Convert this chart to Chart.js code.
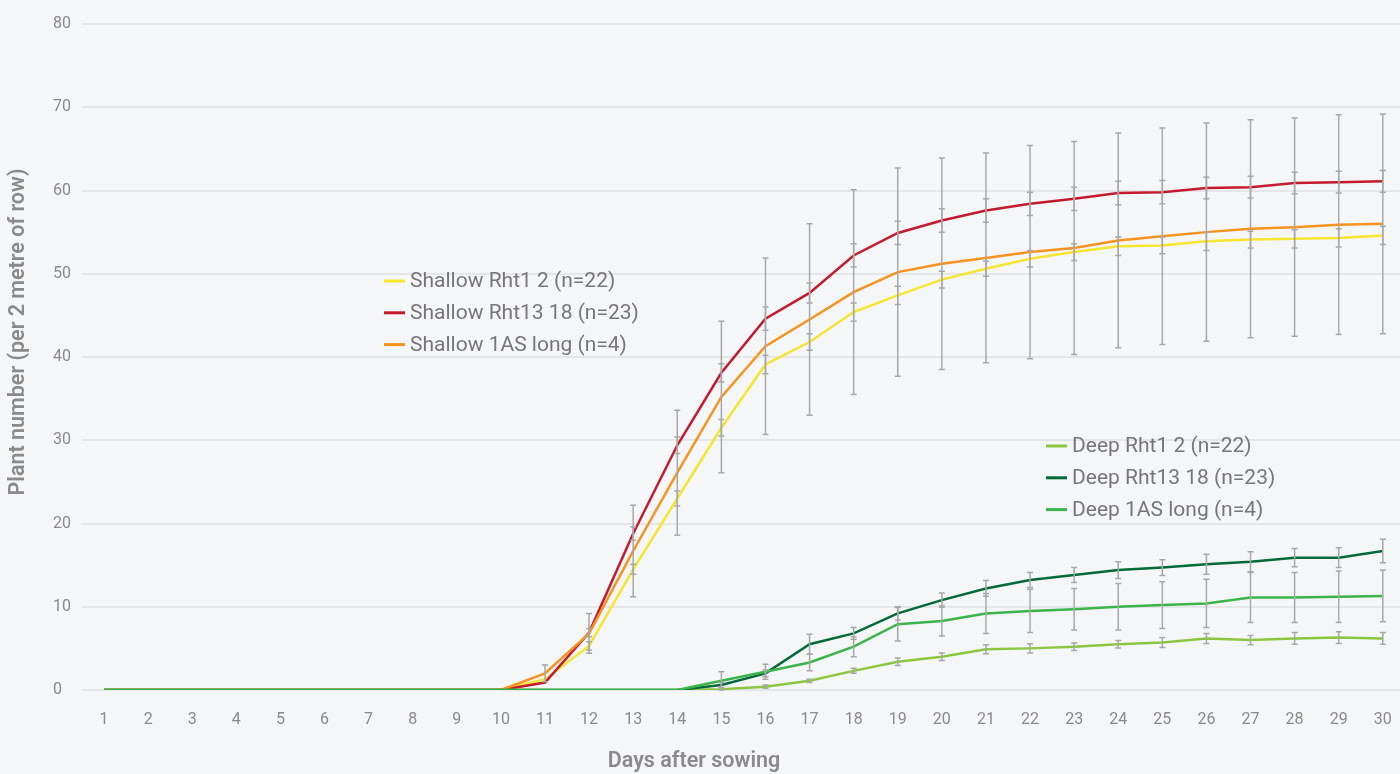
<!DOCTYPE html>
<html>
<head>
<meta charset="utf-8">
<title>Plant emergence</title>
<script src="https://cdn.jsdelivr.net/npm/chart.js@4.4.1/dist/chart.umd.min.js"></script>
<style>
    html, body { margin: 0; padding: 0; background: #f5f6f8; overflow: hidden; }
    #wrap { position: relative; width: 1400px; height: 774px; }
    #wrap canvas { display: block; }
</style>
</head>
<body>
<div id="wrap"><canvas id="plantChart"></canvas></div>
<script>
// Days after sowing
const days = [1, 2, 3, 4, 5, 6, 7, 8, 9, 10, 11, 12, 13, 14, 15, 16, 17, 18, 19, 20, 21, 22, 23, 24, 25, 26, 27, 28, 29, 30];
const yTicks = [0, 10, 20, 30, 40, 50, 60, 70, 80];

// Shallow sowing
const shallowRht12 = [0, 0, 0, 0, 0, 0, 0, 0, 0, 0, 1.3, 5.3, 14.5, 23.0, 31.5, 39.1, 41.8, 45.4, 47.4, 49.3, 50.6, 51.8, 52.6, 53.3, 53.4, 53.9, 54.1, 54.2, 54.3, 54.6];
const shallowRht12Err = [0, 0, 0, 0, 0, 0, 0, 0, 0, 0, 0, 0.5, 0.6, 0.9, 1.0, 1.1, 1.0, 1.1, 1.1, 1.0, 0.9, 1.0, 1.0, 1.1, 1.0, 1.1, 1.0, 1.1, 1.1, 1.1];
const shallowRht1318 = [0, 0, 0, 0, 0, 0, 0, 0, 0, 0, 0.9, 6.9, 18.8, 29.4, 38.1, 44.6, 47.7, 52.2, 54.9, 56.4, 57.6, 58.4, 59.0, 59.7, 59.8, 60.3, 60.4, 60.9, 61.0, 61.1];
const shallowRht1318Err = [0, 0, 0, 0, 0, 0, 0, 0, 0, 0, 0, 0.5, 0.8, 1.0, 1.1, 1.4, 1.2, 1.4, 1.4, 1.4, 1.4, 1.4, 1.4, 1.4, 1.4, 1.3, 1.3, 1.3, 1.3, 1.3];
const shallow1AS = [0, 0, 0, 0, 0, 0, 0, 0, 0, 0, 2.0, 6.8, 16.7, 26.1, 35.2, 41.3, 44.5, 47.8, 50.2, 51.2, 51.9, 52.6, 53.1, 54.0, 54.5, 55.0, 55.4, 55.6, 55.9, 56.0];
const shallow1ASErr = [0, 0, 0, 0, 0, 0, 0, 0, 0, 0, 1.0, 2.4, 5.5, 7.5, 9.1, 10.6, 11.5, 12.3, 12.5, 12.7, 12.6, 12.8, 12.8, 12.9, 13.0, 13.1, 13.1, 13.1, 13.2, 13.2];

// Deep sowing
const deepRht12 = [0, 0, 0, 0, 0, 0, 0, 0, 0, 0, 0, 0, 0, 0, 0.1, 0.4, 1.1, 2.3, 3.4, 4.0, 4.9, 5.0, 5.2, 5.5, 5.7, 6.2, 6.0, 6.2, 6.3, 6.2];
const deepRht12Err = [0, 0, 0, 0, 0, 0, 0, 0, 0, 0, 0, 0, 0, 0, 0, 0.2, 0.2, 0.3, 0.45, 0.45, 0.55, 0.55, 0.45, 0.45, 0.6, 0.6, 0.55, 0.7, 0.7, 0.7];
const deepRht1318 = [0, 0, 0, 0, 0, 0, 0, 0, 0, 0, 0, 0, 0, 0, 0.6, 2.0, 5.5, 6.8, 9.2, 10.8, 12.2, 13.2, 13.8, 14.4, 14.7, 15.1, 15.4, 15.9, 15.9, 16.7];
const deepRht1318Err = [0, 0, 0, 0, 0, 0, 0, 0, 0, 0, 0, 0, 0, 0, 0.3, 0.4, 1.2, 0.7, 0.8, 0.85, 0.95, 0.9, 0.9, 1.0, 0.95, 1.2, 1.2, 1.1, 1.2, 1.4];
const deep1AS = [0, 0, 0, 0, 0, 0, 0, 0, 0, 0, 0, 0, 0, 0, 1.1, 2.2, 3.3, 5.2, 7.9, 8.3, 9.2, 9.5, 9.7, 10.0, 10.2, 10.4, 11.1, 11.1, 11.2, 11.3];
const deep1ASErr = [0, 0, 0, 0, 0, 0, 0, 0, 0, 0, 0, 0, 0, 0, 1.1, 0.9, 1.0, 1.2, 2.0, 1.8, 2.4, 2.6, 2.5, 2.8, 2.8, 2.9, 3.0, 3.0, 3.1, 3.1];

const seriesLabels = [
    'Shallow Rht1 2 (n=22)', 'Shallow Rht13 18 (n=23)', 'Shallow 1AS long (n=4)',
    'Deep Rht1 2 (n=22)', 'Deep Rht13 18 (n=23)', 'Deep 1AS long (n=4)'
];
const seriesColors = ['#f7e630', '#c41a2e', '#f7931e', '#8cc63f', '#006a38', '#3ab54a'];
const seriesValues = [shallowRht12, shallowRht1318, shallow1AS, deepRht12, deepRht1318, deep1AS];
const seriesErrors = [shallowRht12Err, shallowRht1318Err, shallow1ASErr, deepRht12Err, deepRht1318Err, deep1ASErr];
const drawOrder = [5, 4, 3, 2, 1, 0];

const textGrey = '#8a8a8a';
const fontFamily = 'Roboto, "Noto Sans", sans-serif';

// vertical error bars with small caps, drawn over the lines
const errorBars = {
    id: 'errorBars',
    afterDatasetsDraw(chart) {
        const { ctx } = chart;
        const yScale = chart.scales.y;
        ctx.save();
        ctx.strokeStyle = '#a8a8a8';
        ctx.lineWidth = 1.5;
        seriesErrors.forEach((errs, di) => {
            const meta = chart.getDatasetMeta(di);
            errs.forEach((e, i) => {
                if (!e) return;
                const x = meta.data[i].x;
                const v = seriesValues[di][i];
                const top = yScale.getPixelForValue(v + e);
                const bot = yScale.getPixelForValue(v - e);
                ctx.beginPath();
                ctx.moveTo(x, top); ctx.lineTo(x, bot);
                ctx.moveTo(x - 3, top); ctx.lineTo(x + 3, top);
                ctx.moveTo(x - 3, bot); ctx.lineTo(x + 3, bot);
                ctx.stroke();
            });
        });
        ctx.restore();
    }
};

// two legends sitting inside the plot, plus the axis titles
const legendGroups = [
    { x: 384, y: 281, items: [0, 1, 2] },
    { x: 1046, y: 446, items: [3, 4, 5] }
];
const sideLabels = {
    id: 'sideLabels',
    afterDraw(chart) {
        const { ctx } = chart;
        ctx.save();
        ctx.font = '21px ' + fontFamily;
        ctx.textBaseline = 'middle';
        ctx.textAlign = 'left';
        legendGroups.forEach(g => {
            g.items.forEach((di, row) => {
                const ds = chart.data.datasets[di];
                const y = g.y + row * 31.8;
                ctx.strokeStyle = ds.borderColor;
                ctx.lineWidth = 3;
                ctx.beginPath();
                ctx.moveTo(g.x, y);
                ctx.lineTo(g.x + 21, y);
                ctx.stroke();
                ctx.fillStyle = '#777777';
                ctx.fillText(ds.label, g.x + 26, y + 1);
            });
        });

        ctx.fillStyle = textGrey;
        ctx.font = '600 21.5px ' + fontFamily;
        ctx.textAlign = 'center';
        ctx.fillText('Days after sowing', 694, 762);

        ctx.translate(19, 332);
        ctx.rotate(-Math.PI / 2);
        ctx.fillText('Plant number (per 2 metre of row)', 0, 0);
        ctx.restore();
    }
};

const ctx = document.getElementById('plantChart').getContext('2d');

new Chart(ctx, {
    type: 'line',
    data: {
        datasets: seriesValues.map((vals, i) => ({
            label: seriesLabels[i],
            data: vals.map((v, j) => ({ x: days[j], y: v })),
            borderColor: seriesColors[i],
            backgroundColor: seriesColors[i],
            borderWidth: 2.5,
            pointRadius: 0,
            tension: 0,
            fill: false,
            order: drawOrder[i]
        }))
    },
    options: {
        responsive: true,
        maintainAspectRatio: false,
        animation: false,
        layout: { padding: { left: 53, right: 0, top: 24, bottom: 0 } },
        plugins: {
            legend: { display: false },
            tooltip: { enabled: false }
        },
        scales: {
            x: {
                type: 'linear',
                min: 0.5,
                max: 30.39,
                afterBuildTicks: scale => {
                    scale.ticks = days.map(d => ({ value: d }));
                },
                afterFit: scale => {
                    scale.height = 84;
                    scale.paddingLeft = 0;
                    scale.paddingRight = 0;
                },
                grid: { display: false, drawTicks: false },
                border: { display: false },
                ticks: {
                    color: textGrey,
                    font: { family: fontFamily, size: 16 },
                    padding: 20,
                    maxRotation: 0,
                    autoSkip: false
                }
            },
            y: {
                min: 0,
                max: 80,
                afterBuildTicks: scale => {
                    scale.ticks = yTicks.map(v => ({ value: v }));
                },
                afterFit: scale => { scale.width = 29; },
                grid: { color: '#e5e6e8', lineWidth: 2, drawTicks: false },
                border: { display: false },
                ticks: {
                    color: textGrey,
                    font: { family: fontFamily, size: 16 },
                    crossAlign: 'far',
                    padding: 0
                }
            }
        }
    },
    plugins: [errorBars, sideLabels]
});
</script>
</body>
</html>
